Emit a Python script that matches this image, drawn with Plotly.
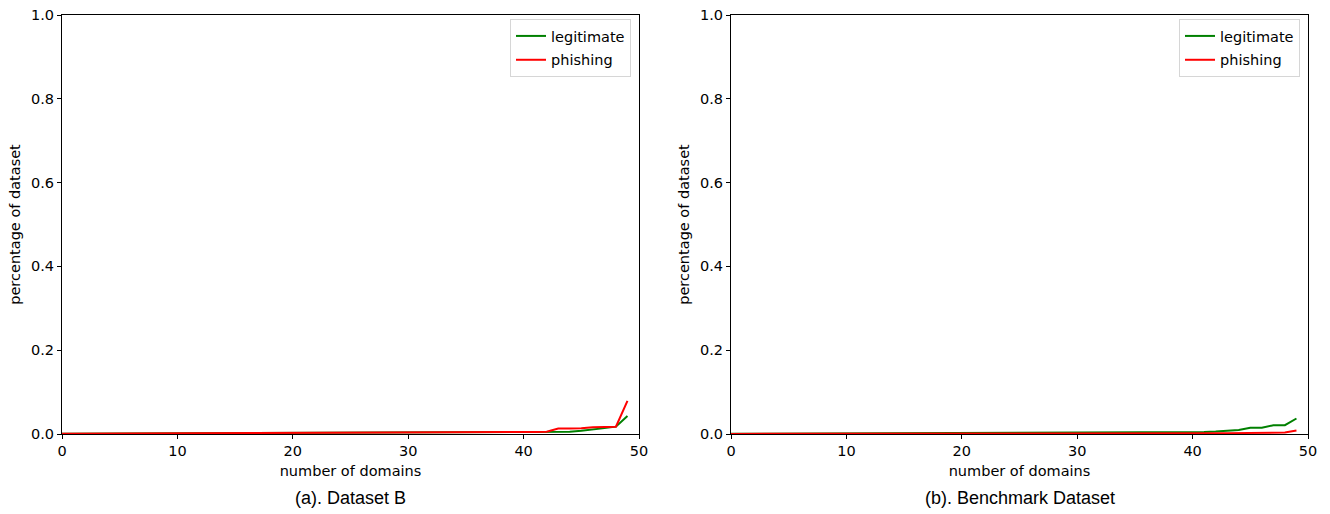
import plotly.graph_objects as go

# number of domains (x) shared by both panels
domains = list(range(50))

# (a) Dataset B
legit_a = [0.0008, 0.0009, 0.0010, 0.0010, 0.0011, 0.0011, 0.0012, 0.0012, 0.0013, 0.0013,
           0.0014, 0.0014, 0.0015, 0.0015, 0.0016, 0.0016, 0.0017, 0.0018, 0.0018, 0.0019,
           0.0020, 0.0020, 0.0021, 0.0022, 0.0022, 0.0023, 0.0024, 0.0024, 0.0025, 0.0026,
           0.0027, 0.0028, 0.0029, 0.0030, 0.0031, 0.0032, 0.0033, 0.0034, 0.0036, 0.0038,
           0.0040, 0.0042, 0.0045, 0.0050, 0.0055, 0.0075, 0.0100, 0.0140, 0.0175, 0.0430]
phish_a = [0.0005, 0.0006, 0.0006, 0.0007, 0.0007, 0.0008, 0.0008, 0.0009, 0.0009, 0.0010,
           0.0010, 0.0011, 0.0011, 0.0012, 0.0012, 0.0013, 0.0013, 0.0014, 0.0015, 0.0015,
           0.0016, 0.0017, 0.0017, 0.0018, 0.0019, 0.0020, 0.0021, 0.0022, 0.0023, 0.0024,
           0.0025, 0.0026, 0.0027, 0.0028, 0.0030, 0.0032, 0.0034, 0.0036, 0.0038, 0.0041,
           0.0045, 0.0050, 0.0055, 0.0130, 0.0132, 0.0135, 0.0160, 0.0170, 0.0175, 0.0790]

# (b) Benchmark Dataset
legit_b = [0.0005, 0.0006, 0.0006, 0.0007, 0.0007, 0.0008, 0.0008, 0.0009, 0.0009, 0.0010,
           0.0010, 0.0011, 0.0011, 0.0012, 0.0012, 0.0013, 0.0013, 0.0014, 0.0015, 0.0015,
           0.0016, 0.0017, 0.0017, 0.0018, 0.0019, 0.0020, 0.0021, 0.0022, 0.0023, 0.0024,
           0.0025, 0.0026, 0.0027, 0.0028, 0.0030, 0.0032, 0.0034, 0.0036, 0.0038, 0.0041,
           0.0045, 0.0050, 0.0060, 0.0070, 0.0095, 0.0150, 0.0150, 0.0210, 0.0210, 0.0370]
phish_b = [0.0002, 0.0002, 0.0002, 0.0003, 0.0003, 0.0003, 0.0003, 0.0004, 0.0004, 0.0004,
           0.0004, 0.0005, 0.0005, 0.0005, 0.0005, 0.0006, 0.0006, 0.0006, 0.0006, 0.0007,
           0.0007, 0.0007, 0.0008, 0.0008, 0.0008, 0.0009, 0.0009, 0.0010, 0.0010, 0.0011,
           0.0011, 0.0012, 0.0012, 0.0013, 0.0013, 0.0014, 0.0014, 0.0015, 0.0016, 0.0016,
           0.0017, 0.0018, 0.0019, 0.0020, 0.0022, 0.0025, 0.0028, 0.0030, 0.0035, 0.0085]

panel_titles = ["(a). Dataset B", "(b). Benchmark Dataset"]
x_ticks = [0, 10, 20, 30, 40, 50]
y_ticks = [0.0, 0.2, 0.4, 0.6, 0.8, 1.0]

W, H = 1330, 514
GREEN, RED = "#008000", "#ff0000"
FS = 14.5
TICK_FONT = dict(family="DejaVu Sans", size=FS, color="black")

fig = go.Figure()

panels = [
    (legit_a, phish_a, "x", "y", "legend"),
    (legit_b, phish_b, "x2", "y2", "legend2"),
]
for legit, phish, xa, ya, lg in panels:
    fig.add_trace(go.Scatter(x=domains, y=legit, mode="lines", name="legitimate",
                             legendgroup=lg + "_legit",
                             line=dict(color=GREEN, width=2), xaxis=xa, yaxis=ya, legend=lg))
    fig.add_trace(go.Scatter(x=domains, y=phish, mode="lines", name="phishing",
                             legendgroup=lg + "_phish",
                             line=dict(color=RED, width=2), xaxis=xa, yaxis=ya, legend=lg))

x_domains = [(62 / W, 639 / W), (731 / W, 1308 / W)]
y_domain = (1 - 434 / H, 1 - 15 / H)

axis_common = dict(showline=True, linecolor="black", linewidth=1, mirror=True,
                   ticks="outside", ticklen=4, tickwidth=1, tickcolor="black",
                   showgrid=False, zeroline=False, tickfont=TICK_FONT, automargin=False)
title_font = dict(family="DejaVu Sans", size=FS, color="black")

for i, (xd, suffix) in enumerate(zip(x_domains, ["", "2"])):
    fig.update_layout(**{
        "xaxis" + suffix: dict(domain=list(xd), range=[0, 50], tickvals=x_ticks,
                               ticktext=[str(t) for t in x_ticks],
                               anchor="y" + suffix,
                               title=dict(text="number of domains", standoff=7, font=title_font),
                               **axis_common),
        "yaxis" + suffix: dict(domain=list(y_domain), range=[0, 1], tickvals=y_ticks,
                               ticktext=[f"{t:.1f}" for t in y_ticks],
                               anchor="x" + suffix,
                               title=dict(text="percentage of dataset", standoff=6, font=title_font),
                               **axis_common),
    })
    fig.add_annotation(text=panel_titles[i], xref="paper", yref="paper",
                       x=(xd[0] + xd[1]) / 2, y=1 - 498 / H, xanchor="center", yanchor="middle",
                       showarrow=False,
                       font=dict(family="Liberation Sans", size=18, color="black"))

legend_style = dict(bgcolor="white", bordercolor="#d6d6d6", borderwidth=1,
                    font=dict(family="DejaVu Sans", size=FS, color="black"),
                    xanchor="right", yanchor="top", traceorder="grouped",
                    tracegroupgap=2, itemwidth=30)

fig.update_layout(
    width=W, height=H,
    margin=dict(l=0, r=0, t=0, b=0),
    paper_bgcolor="white", plot_bgcolor="white",
    legend=dict(x=x_domains[0][1] - 8 / W, y=y_domain[1] - 4 / H, **legend_style),
    legend2=dict(x=x_domains[1][1] - 8 / W, y=y_domain[1] - 4 / H, **legend_style),
)

fig.write_html("out.html")
